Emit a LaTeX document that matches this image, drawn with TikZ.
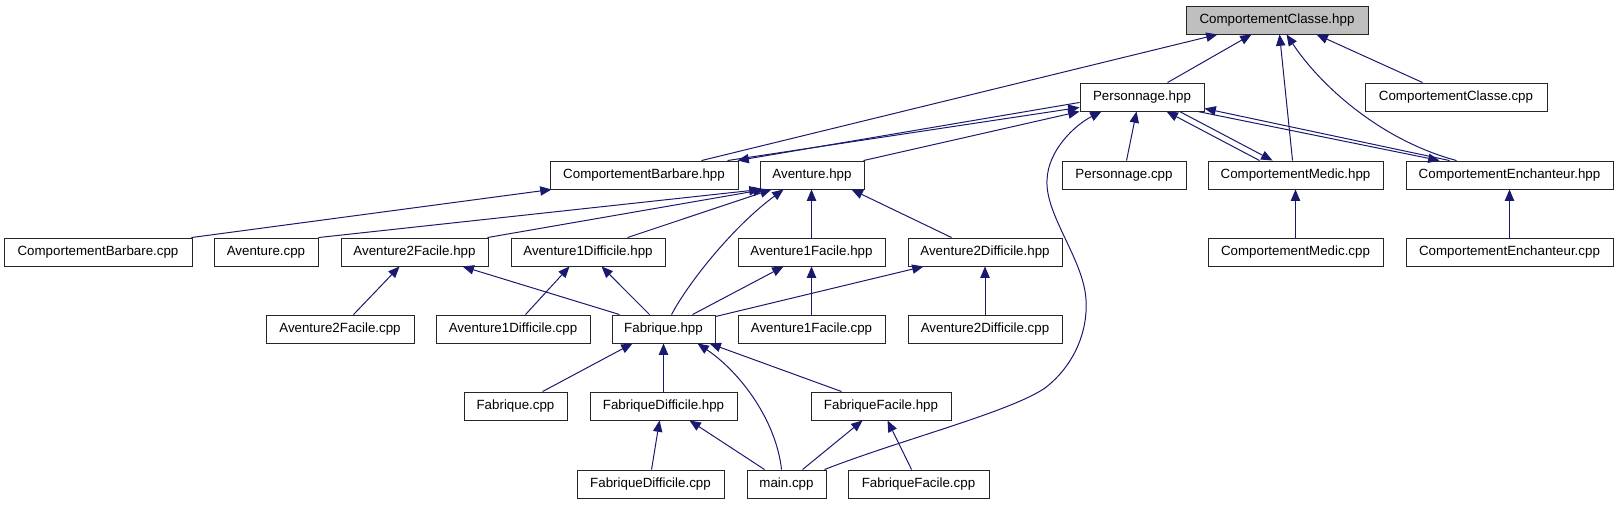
\documentclass[tikz,border=0pt]{standalone}
\usepackage{fontspec}
\setmainfont{Liberation Sans}
\usetikzlibrary{arrows.meta,calc}
\definecolor{edgeblue}{HTML}{191970}
\definecolor{rootgray}{HTML}{BFBFBF}
\begin{document}
\begin{tikzpicture}[x=0.75pt,y=-0.75pt,
  box/.style={draw=black!85,line width=0.7pt,rectangle,minimum height=21pt,inner sep=0pt,
    font=\fontsize{10}{12}\selectfont,text=black},
  root/.style={box,fill=rootgray},
  edge/.style={draw=edgeblue,line width=0.75pt,-{Triangle[length=8.5pt,width=7pt]}}]
\useasboundingbox (0,0) rectangle (1617,504);
% row 1
\node[root,minimum width=136.5pt] (cch) at (1277,20) {ComportementClasse.hpp};
% row 2
\node[box,minimum width=93pt] (ph) at (1142,97) {Personnage.hpp};
\node[box,minimum width=136.5pt] (ccc) at (1456,97) {ComportementClasse.cpp};
% row 3
\node[box,minimum width=141pt] (cbh) at (644,175) {ComportementBarbare.hpp};
\node[box,minimum width=78pt] (ah) at (812,175) {Aventure.hpp};
\node[box,minimum width=93pt] (pc) at (1124,175) {Personnage.cpp};
\node[box,minimum width=131.25pt] (cmh) at (1295.5,175) {ComportementMedic.hpp};
\node[box,minimum width=155.25pt] (ceh) at (1509.5,175) {ComportementEnchanteur.hpp};
% row 4
\node[box,minimum width=141pt] (cbc) at (98,252) {ComportementBarbare.cpp};
\node[box,minimum width=78pt] (ac) at (266,252) {Aventure.cpp};
\node[box,minimum width=110.25pt] (a2fh) at (414.5,252) {Aventure2Facile.hpp};
\node[box,minimum width=115.5pt] (a1dh) at (588,252) {Aventure1Difficile.hpp};
\node[box,minimum width=110.25pt] (a1fh) at (811.5,252) {Aventure1Facile.hpp};
\node[box,minimum width=115.5pt] (a2dh) at (985,252) {Aventure2Difficile.hpp};
\node[box,minimum width=131.25pt] (cmc) at (1295.5,252) {ComportementMedic.cpp};
\node[box,minimum width=155.25pt] (cec) at (1509.5,252) {ComportementEnchanteur.cpp};
% row 5
\node[box,minimum width=111pt] (a2fc) at (340,329) {Aventure2Facile.cpp};
\node[box,minimum width=115.5pt] (a1dc) at (513,329) {Aventure1Difficile.cpp};
\node[box,minimum width=77.25pt] (fh) at (663.5,329) {Fabrique.hpp};
\node[box,minimum width=110.25pt] (a1fc) at (811.5,329) {Aventure1Facile.cpp};
\node[box,minimum width=115.5pt] (a2dc) at (985,329) {Aventure2Difficile.cpp};
% row 6
\node[box,minimum width=77.25pt] (fc) at (515.5,406) {Fabrique.cpp};
\node[box,minimum width=110.25pt] (fdh) at (663.5,406) {FabriqueDifficile.hpp};
\node[box,minimum width=105pt] (ffh) at (881,406) {FabriqueFacile.hpp};
% row 7
\node[box,minimum width=110.25pt] (fdc) at (650.5,484) {FabriqueDifficile.cpp};
\node[box,minimum width=59.25pt] (mc) at (786.5,484) {main.cpp};
\node[box,minimum width=105.75pt] (ffc) at (918.5,484) {FabriqueFacile.cpp};

% edges into ComportementClasse.hpp
\draw[edge] ($(ph.north west)+(88,0)$) -- ($(cch.south west)+(66,0)$);
\draw[edge] ($(cbh.north west)+(152,0)$) -- ($(cch.south west)+(32,0)$);
\draw[edge] ($(cmh.north west)+(85,0)$) -- ($(cch.south west)+(94,0)$);
\draw[edge] ($(ceh.north west)+(51,0)$) .. controls (1380,140) and (1320,85) .. ($(cch.south west)+(101,0)$);
\draw[edge] ($(ccc.north west)+(58,0)$) -- ($(cch.south west)+(131,0)$);
% Personnage.hpp
\draw[edge] ($(cbh.north west)+(178,0)$) -- ($(ph.south west)+(0,-4)$);
\draw[edge] ($(ph.south west)+(0,-9)$) -- ($(cbh.north east)+(-1,0)$);
\draw[edge] ($(ah.north east)+(-1,0)$) -- (ph.south west);
\draw[edge] ($(pc.north west)+(65,0)$) -- ($(ph.south west)+(57,0)$);
\draw[edge] ($(cmh.north west)+(52,0)$) -- ($(ph.south west)+(87,0)$);
\draw[edge] ($(ph.south west)+(100,0)$) -- ($(cmh.north west)+(65,0)$);
\draw[edge] ($(ceh.north west)+(44,0)$) -- ($(ph.south east)+(0,-3)$);
\draw[edge] ($(ph.south west)+(118,0)$) -- ($(ceh.north west)+(34,0)$);
\draw[edge] ($(mc.north east)+(-2,0)$) .. controls (900,440) and (1010,412) .. (1045,388)
  .. controls (1075,365) and (1088,330) .. (1086,300)
  .. controls (1084,260) and (1045,215) .. (1047,180)
  .. controls (1048,150) and (1075,125) .. ($(ph.south west)+(22,0)$);
% ComportementBarbare.hpp
\draw[edge] ($(cbc.north east)+(-1,0)$) -- ($(cbh.south west)+(2,0)$);
% Aventure.hpp
\draw[edge] (ac.north east) -- ($(ah.south west)+(1,0)$);
\draw[edge] ($(a2fh.north east)+(-1,0)$) -- ($(ah.south west)+(5,0)$);
\draw[edge] ($(a1dh.north west)+(117,0)$) -- ($(ah.south west)+(12,0)$);
\draw[edge] ($(fh.north west)+(60,0)$) .. controls (690,280) and (735,225) .. ($(ah.south west)+(24,0)$);
\draw[edge] (a1fh.north) -- (a1fh.north |- ah.south);
\draw[edge] ($(a2dh.north west)+(44,0)$) -- ($(ah.south west)+(92,0)$);
% Medic / Enchanteur
\draw[edge] (cmc.north) -- (cmh.south);
\draw[edge] (cec.north) -- (ceh.south);
% row 4 headers
\draw[edge] ($(a2fc.north west)+(88,0)$) -- ($(a2fh.south west)+(59,0)$);
\draw[edge] ($(fh.north west)+(8,0)$) -- ($(a2fh.south west)+(122,0)$);
\draw[edge] ($(a1dc.north west)+(90,0)$) -- ($(a1dh.south west)+(59,0)$);
\draw[edge] ($(fh.north west)+(38,0)$) -- ($(a1dh.south west)+(91,0)$);
\draw[edge] ($(fh.north west)+(81,0)$) -- ($(a1fh.south west)+(46,0)$);
\draw[edge] (a1fc.north) -- (a1fh.south);
\draw[edge] ($(fh.north east)+(0,2)$) -- ($(a2dh.south west)+(16,0)$);
\draw[edge] (a2dc.north) -- (a2dh.south);
% Fabrique.hpp
\draw[edge] ($(fc.north west)+(79,0)$) -- ($(fh.south west)+(21,0)$);
\draw[edge] (fdh.north) -- (fh.south);
\draw[edge] ($(mc.north west)+(35,0)$) .. controls (776,420) and (740,372) .. ($(fh.south west)+(86,0)$);
\draw[edge] ($(ffh.north west)+(31,0)$) -- ($(fh.south west)+(98,0)$);
% FabriqueDifficile / FabriqueFacile
\draw[edge] ($(fdc.north west)+(75,0)$) -- ($(fdh.south west)+(70,0)$);
\draw[edge] ($(mc.north west)+(18,0)$) -- ($(fdh.south west)+(100,0)$);
\draw[edge] ($(mc.north west)+(56,0)$) -- ($(ffh.south west)+(52,0)$);
\draw[edge] ($(ffc.north west)+(64,0)$) -- ($(ffh.south west)+(77,0)$);
\end{tikzpicture}
\end{document}
